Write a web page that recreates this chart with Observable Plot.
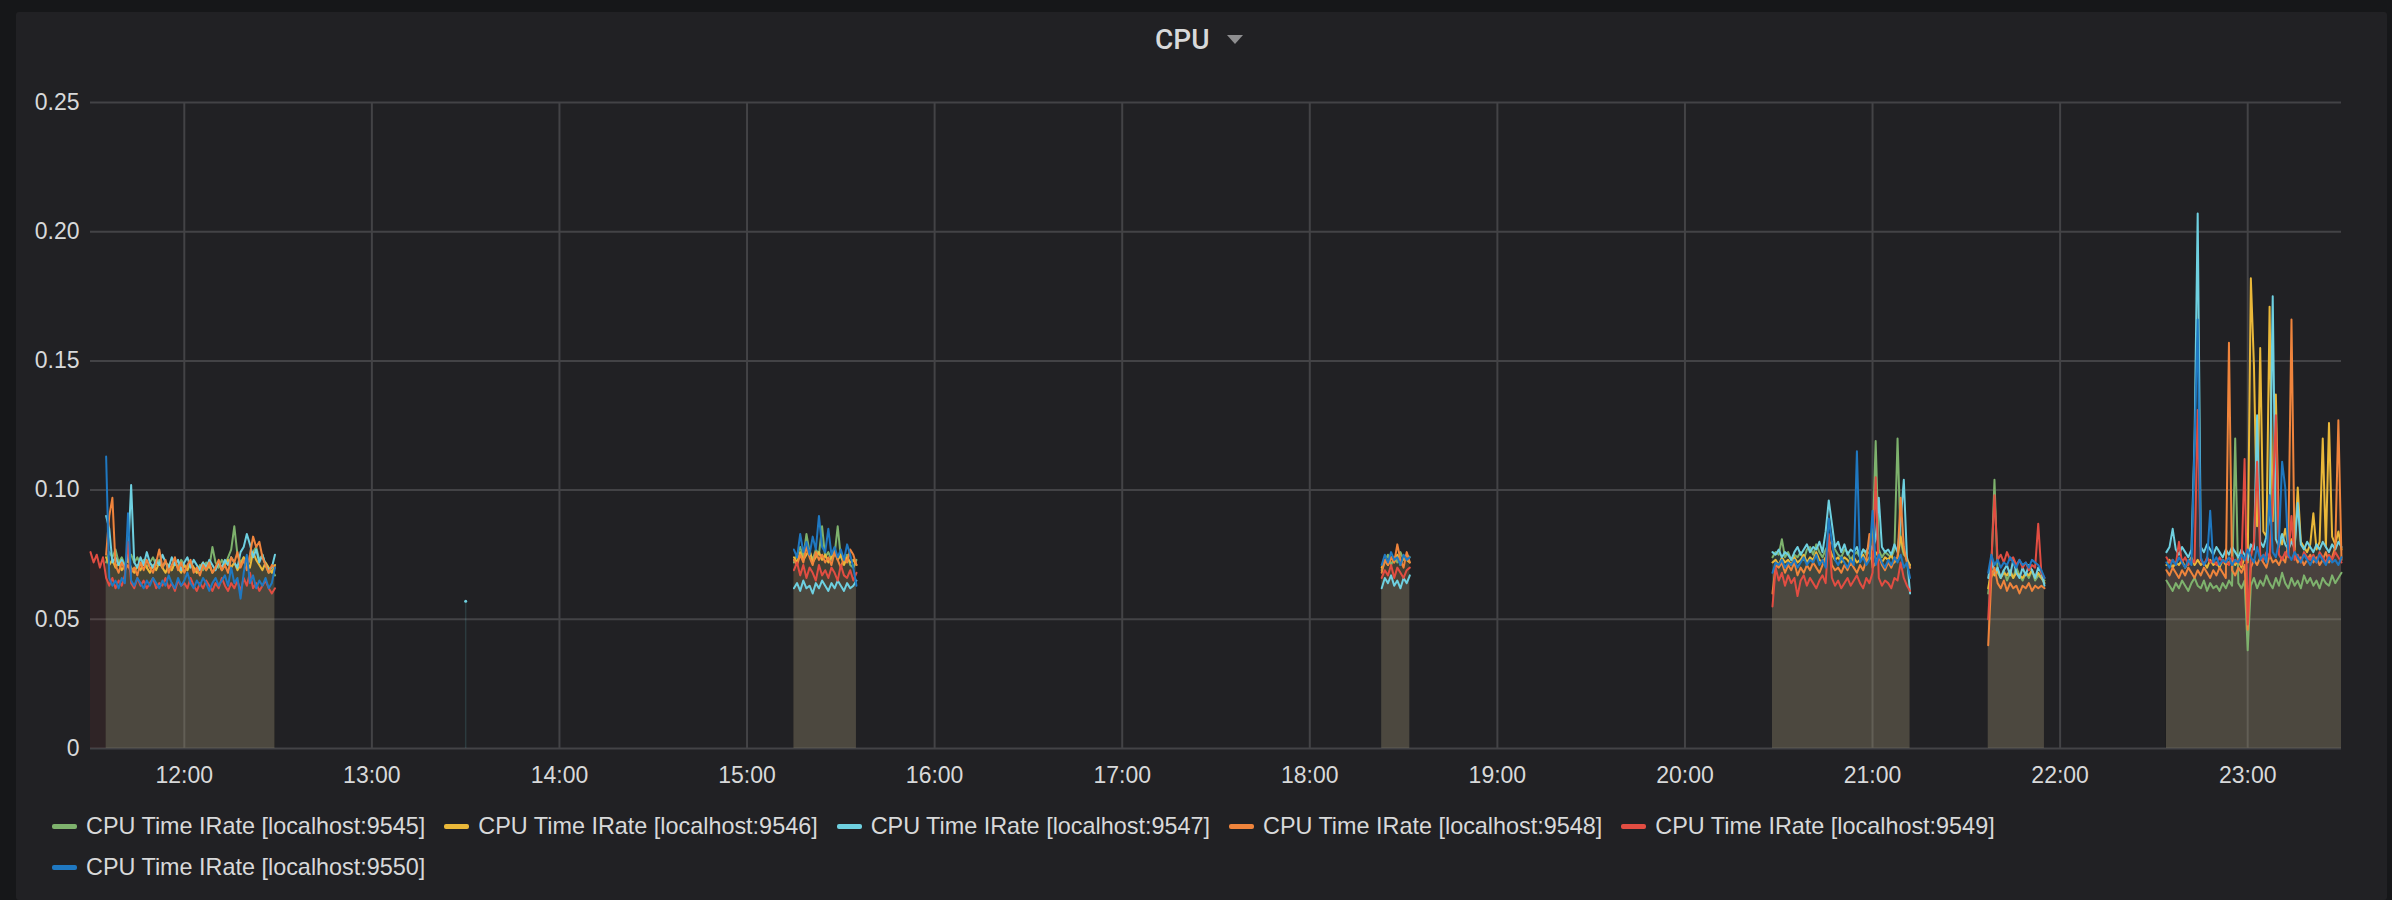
<!DOCTYPE html>
<html>
<head>
<meta charset="utf-8">
<script src="https://cdn.jsdelivr.net/npm/d3@7"></script>
<script src="https://cdn.jsdelivr.net/npm/@observablehq/plot@0.6"></script>
<style>
html, body { margin: 0; padding: 0; background: #161719; width: 2392px; height: 900px; overflow: hidden; }
#panel { position: absolute; left: 16px; top: 12px; width: 2371px; height: 888px; background: #212124; border-radius: 3px; }
#title { position: absolute; left: 1155px; top: 26px; height: 28px; line-height: 28px; font-family: Roboto, "Liberation Sans", sans-serif; font-weight: 500; font-size: 28px; color: #d8d9da; white-space: nowrap; }
#caret { position: absolute; left: 1227px; top: 35px; width: 0; height: 0; border-left: 8px solid transparent; border-right: 8px solid transparent; border-top: 9px solid #8e8e90; }
#chart { position: absolute; left: 0; top: 60px; }
#legend { position: absolute; left: 52px; top: 811px; width: 2290px; display: flex; flex-wrap: wrap; row-gap: 11px; }
.item { display: flex; align-items: center; height: 30px; margin-right: 19px; }
.sw { width: 25px; height: 5px; border-radius: 2px; margin-right: 9px; }
.lbl { font-family: "Liberation Sans", Arial, sans-serif; font-size: 23.4px; line-height: 30px; color: #d8d9da; white-space: nowrap; }
</style>
</head>
<body>
<div id="panel"></div>
<div id="title">CPU</div>
<div id="caret"></div>
<div id="chart"></div>
<div id="legend"></div>
<script>
// ---- data -------------------------------------------------------------
const seriesNames = [
  "CPU Time IRate [localhost:9545]",
  "CPU Time IRate [localhost:9546]",
  "CPU Time IRate [localhost:9547]",
  "CPU Time IRate [localhost:9548]",
  "CPU Time IRate [localhost:9549]",
  "CPU Time IRate [localhost:9550]"
];
const seriesColors = ["#7EB26D", "#EAB839", "#6ED0E0", "#EF843C", "#E24D42", "#1F78C1"];

// start time of each run of samples (one sample per minute)
const segStarts = ["11:30", "15:15", "18:23", "20:28", "21:37", "22:34"];
const hourLabels = ["12:00","13:00","14:00","15:00","16:00","17:00","18:00","19:00","20:00","21:00","22:00","23:00"];
const yTicks = [0, 0.05, 0.10, 0.15, 0.20, 0.25];
const domainStart = "11:30", domainEnd = "23:30";

// lone sample of localhost:9547
const isolatedTimes = ["13:30"];
const isolatedValues = [0.057];

const v9545 = [
  [null,null,null,null,null,0.072,0.076,0.074,0.077,0.072,
   0.074,0.071,0.073,0.075,0.072,0.074,0.071,0.073,0.070,0.072,
   0.074,0.071,0.073,0.070,0.072,0.071,0.069,0.072,0.070,0.073,
   0.071,0.069,0.072,0.070,0.068,0.071,0.069,0.072,0.070,0.078,
   0.072,0.070,0.073,0.071,0.074,0.077,0.086,0.075,0.072,0.074,
   0.071,0.073,0.076,0.078,0.073,0.075,0.071,0.068,0.069,0.067],
  [0.072,0.075,0.078,0.074,0.083,0.076,0.073,0.077,0.075,0.086,0.074,0.076,0.073,0.075,0.086,0.074,0.072,0.075,0.071,0.070,0.073],
  [0.069,0.072,0.075,0.071,0.074,0.072,0.076,0.073,0.075,0.074],
  [0.074,0.076,0.075,0.081,0.074,0.076,0.073,0.075,0.074,0.076,
   0.073,0.077,0.078,0.075,0.079,0.076,0.074,0.077,0.079,0.080,
   0.077,0.075,0.074,0.077,0.076,0.073,0.075,0.076,0.074,0.077,
   0.075,0.076,0.078,0.119,0.077,0.074,0.076,0.075,0.074,0.077,
   0.120,0.080,0.075,0.074,0.070],
  [0.060,0.070,0.104,0.068,0.066,0.069,0.065,0.068,0.066,0.070,0.067,0.065,0.068,0.066,0.069,0.065,0.067,0.066,0.065],
  [0.065,0.063,0.061,0.064,0.062,0.065,0.063,0.061,0.064,0.066,
   0.063,0.062,0.065,0.061,0.064,0.062,0.063,0.061,0.064,0.062,
   0.065,0.063,0.120,0.064,0.062,0.065,0.038,0.063,0.066,0.062,
   0.065,0.063,0.067,0.064,0.062,0.066,0.063,0.068,0.064,0.062,
   0.066,0.063,0.065,0.062,0.067,0.064,0.066,0.063,0.065,0.062,
   0.066,0.064,0.063,0.067,0.064,0.066,0.068]
];
const v9546 = [
  [null,null,null,null,null,0.074,0.071,0.073,0.070,0.072,
   0.069,0.071,0.073,0.070,0.068,0.071,0.069,0.072,0.070,0.068,
   0.071,0.069,0.072,0.070,0.068,0.071,0.069,0.072,0.070,0.068,
   0.071,0.069,0.072,0.070,0.068,0.070,0.072,0.069,0.071,0.068,
   0.070,0.072,0.069,0.071,0.073,0.070,0.072,0.069,0.071,0.074,
   0.072,0.070,0.076,0.073,0.071,0.069,0.072,0.070,0.068,0.071],
  [0.074,0.072,0.076,0.073,0.075,0.077,0.072,0.074,0.076,0.073,0.075,0.072,0.074,0.077,0.073,0.075,0.071,0.074,0.072,0.073,0.071],
  [0.070,0.073,0.071,0.074,0.072,0.075,0.071,0.074,0.073,0.072],
  [0.072,0.073,0.071,0.074,0.072,0.073,0.071,0.074,0.072,0.073,
   0.075,0.072,0.074,0.073,0.076,0.073,0.072,0.074,0.078,0.075,
   0.073,0.074,0.072,0.074,0.073,0.071,0.074,0.072,0.073,0.075,
   0.072,0.074,0.073,0.076,0.074,0.072,0.074,0.073,0.075,0.072,
   0.074,0.082,0.076,0.073,0.071],
  [0.062,0.069,0.067,0.069,0.066,0.068,0.067,0.069,0.066,0.068,0.067,0.066,0.068,0.067,0.069,0.066,0.068,0.066,0.064],
  [0.071,0.073,0.070,0.072,0.071,0.073,0.070,0.072,0.074,0.071,
   0.073,0.071,0.072,0.070,0.073,0.071,0.072,0.070,0.073,0.071,
   0.072,0.074,0.071,0.073,0.070,0.074,0.072,0.182,0.148,0.086,
   0.155,0.084,0.082,0.171,0.088,0.137,0.083,0.079,0.085,0.078,
   0.081,0.077,0.101,0.080,0.078,0.076,0.079,0.091,0.077,0.080,
   0.120,0.078,0.126,0.082,0.079,0.084,0.077]
];
const v9547 = [
  [null,null,null,null,null,0.090,0.085,0.072,0.074,0.071,
   0.073,0.070,0.075,0.102,0.072,0.070,0.074,0.071,0.076,0.072,
   0.070,0.073,0.071,0.075,0.072,0.070,0.074,0.071,0.073,0.069,
   0.072,0.074,0.070,0.073,0.071,0.069,0.072,0.070,0.073,0.071,
   0.069,0.072,0.070,0.073,0.071,0.074,0.072,0.070,0.076,0.078,
   0.083,0.079,0.074,0.077,0.072,0.075,0.071,0.069,0.070,0.075],
  [0.062,0.064,0.061,0.065,0.062,0.063,0.060,0.064,0.062,0.065,0.063,0.061,0.064,0.062,0.065,0.063,0.061,0.064,0.062,0.063,0.065],
  [0.062,0.066,0.064,0.067,0.063,0.065,0.062,0.066,0.064,0.067],
  [0.076,0.075,0.077,0.074,0.076,0.075,0.073,0.076,0.078,0.075,
   0.077,0.079,0.076,0.078,0.077,0.080,0.076,0.084,0.096,0.087,
   0.078,0.080,0.076,0.079,0.075,0.077,0.076,0.078,0.074,0.077,
   0.076,0.079,0.077,0.081,0.097,0.078,0.076,0.077,0.075,0.079,
   0.076,0.088,0.104,0.074,0.060],
  [0.066,0.073,0.068,0.070,0.066,0.069,0.071,0.067,0.073,0.068,0.066,0.070,0.067,0.071,0.069,0.066,0.070,0.068,0.063],
  [0.076,0.078,0.085,0.077,0.075,0.078,0.076,0.074,0.077,0.120,
   0.207,0.078,0.076,0.079,0.077,0.075,0.078,0.076,0.074,0.077,
   0.075,0.078,0.076,0.074,0.077,0.075,0.073,0.079,0.077,0.129,
   0.080,0.078,0.082,0.090,0.175,0.081,0.078,0.083,0.079,0.077,
   0.080,0.078,0.095,0.079,0.077,0.080,0.078,0.076,0.079,0.077,
   0.080,0.078,0.076,0.079,0.077,0.080,0.078]
];
const v9548 = [
  [null,null,null,null,null,0.075,0.090,0.097,0.071,0.068,
   0.072,0.069,0.071,0.068,0.070,0.067,0.072,0.069,0.073,0.070,
   0.068,0.072,0.077,0.070,0.073,0.068,0.071,0.074,0.069,0.072,
   0.068,0.071,0.073,0.068,0.070,0.067,0.071,0.069,0.072,0.068,
   0.070,0.073,0.069,0.071,0.068,0.074,0.072,0.076,0.070,0.073,
   0.069,0.075,0.082,0.078,0.080,0.074,0.071,0.068,0.071,0.070],
  [0.073,0.071,0.075,0.072,0.078,0.074,0.071,0.076,0.073,0.075,0.072,0.074,0.071,0.076,0.073,0.070,0.074,0.072,0.077,0.075,0.071],
  [0.068,0.073,0.071,0.074,0.072,0.079,0.073,0.070,0.076,0.072],
  [0.060,0.071,0.070,0.072,0.068,0.071,0.069,0.072,0.067,0.070,
   0.068,0.071,0.069,0.072,0.070,0.068,0.071,0.073,0.082,0.071,
   0.069,0.070,0.068,0.071,0.069,0.072,0.070,0.068,0.071,0.069,
   0.073,0.083,0.070,0.072,0.075,0.071,0.069,0.072,0.070,0.073,
   0.074,0.097,0.078,0.072,0.070],
  [0.040,0.066,0.070,0.064,0.062,0.065,0.061,0.064,0.062,0.063,0.060,0.063,0.062,0.064,0.061,0.063,0.062,0.063,0.062],
  [0.069,0.067,0.070,0.068,0.066,0.069,0.067,0.070,0.068,0.066,
   0.069,0.067,0.070,0.068,0.066,0.069,0.067,0.070,0.068,0.066,
   0.157,0.069,0.067,0.070,0.068,0.071,0.046,0.070,0.073,0.071,
   0.074,0.072,0.070,0.075,0.072,0.073,0.071,0.074,0.072,0.080,
   0.166,0.075,0.072,0.074,0.071,0.073,0.075,0.072,0.074,0.071,
   0.073,0.076,0.072,0.074,0.078,0.127,0.073]
];
const v9549 = [
  [0.076,0.072,0.075,0.070,0.074,0.066,0.063,0.066,0.062,0.065,
   0.063,0.067,0.080,0.064,0.062,0.066,0.063,0.065,0.062,0.064,
   0.066,0.062,0.064,0.063,0.066,0.062,0.064,0.061,0.065,0.063,
   0.064,0.062,0.066,0.063,0.061,0.064,0.062,0.065,0.063,0.061,
   0.064,0.062,0.066,0.063,0.061,0.064,0.062,0.065,0.061,0.066,
   0.063,0.068,0.062,0.064,0.061,0.063,0.065,0.062,0.060,0.062],
  [0.069,0.072,0.067,0.071,0.066,0.070,0.068,0.065,0.071,0.067,0.069,0.066,0.070,0.068,0.065,0.071,0.067,0.066,0.069,0.065,0.068],
  [0.066,0.069,0.067,0.071,0.066,0.070,0.068,0.066,0.069,0.070],
  [0.055,0.070,0.065,0.068,0.063,0.067,0.064,0.066,0.059,0.065,
   0.067,0.063,0.066,0.064,0.062,0.065,0.067,0.064,0.083,0.066,
   0.063,0.065,0.062,0.064,0.066,0.063,0.065,0.067,0.064,0.062,
   0.066,0.064,0.068,0.105,0.066,0.063,0.065,0.064,0.062,0.066,
   0.065,0.072,0.066,0.063,0.061],
  [0.050,0.072,0.098,0.073,0.075,0.072,0.076,0.073,0.074,0.071,0.073,0.070,0.072,0.069,0.071,0.070,0.087,0.068,0.066],
  [0.074,0.072,0.073,0.071,0.080,0.072,0.074,0.071,0.073,0.072,
   0.131,0.073,0.071,0.074,0.072,0.073,0.071,0.074,0.072,0.073,
   0.071,0.074,0.072,0.073,0.071,0.112,0.048,0.074,0.080,0.111,
   0.075,0.073,0.076,0.074,0.096,0.129,0.075,0.073,0.076,0.074,
   0.090,0.073,0.075,0.072,0.076,0.074,0.073,0.075,0.072,0.076,
   0.074,0.072,0.075,0.073,0.076,0.074,0.072]
];
const v9550 = [
  [null,null,null,null,null,0.113,0.066,0.063,0.065,0.062,
   0.066,0.064,0.091,0.065,0.063,0.066,0.064,0.062,0.065,0.063,
   0.066,0.064,0.062,0.065,0.063,0.067,0.064,0.062,0.066,0.063,
   0.065,0.068,0.064,0.062,0.065,0.063,0.066,0.064,0.061,0.064,
   0.066,0.063,0.065,0.067,0.063,0.070,0.064,0.066,0.058,0.068,
   0.075,0.064,0.067,0.062,0.065,0.063,0.066,0.062,0.064,0.070],
  [0.077,0.074,0.083,0.076,0.080,0.075,0.082,0.077,0.090,0.078,0.076,0.085,0.075,0.078,0.074,0.077,0.073,0.079,0.075,0.070,0.063],
  [0.071,0.075,0.072,0.076,0.073,0.074,0.071,0.075,0.073,0.074],
  [0.068,0.072,0.071,0.073,0.070,0.072,0.071,0.073,0.070,0.072,
   0.074,0.071,0.073,0.072,0.075,0.071,0.073,0.070,0.089,0.080,
   0.073,0.071,0.074,0.072,0.070,0.073,0.071,0.115,0.072,0.074,
   0.071,0.073,0.092,0.071,0.075,0.072,0.070,0.073,0.071,0.074,
   0.072,0.075,0.070,0.072,0.066],
  [0.068,0.075,0.071,0.073,0.070,0.072,0.071,0.074,0.072,0.070,0.073,0.071,0.072,0.070,0.073,0.072,0.071,0.069,0.066],
  [0.072,0.070,0.073,0.071,0.074,0.072,0.070,0.073,0.071,0.118,
   0.166,0.074,0.071,0.073,0.092,0.072,0.074,0.071,0.073,0.072,
   0.074,0.071,0.073,0.072,0.075,0.073,0.077,0.074,0.072,0.078,
   0.073,0.075,0.072,0.098,0.076,0.074,0.080,0.111,0.101,0.075,
   0.073,0.076,0.074,0.072,0.075,0.073,0.071,0.074,0.072,0.075,
   0.073,0.071,0.074,0.072,0.073,0.071,0.074]
];
const seriesValues = [v9545, v9546, v9547, v9548, v9549, v9550];

// ---- build table ------------------------------------------------------
const toDate = hm => new Date("2018-05-01T" + hm + ":00Z");
const rows = [];
seriesValues.forEach((segs, si) => {
  segs.forEach((vals, gi) => {
    const t0 = +toDate(segStarts[gi]);
    vals.forEach((v, i) => {
      if (v == null) return;
      rows.push({ time: new Date(t0 + i * 60000), value: v, series: seriesNames[si], key: si + "-" + gi });
    });
  });
});
const isolated = isolatedTimes.map((t, i) => ({ time: toDate(t), value: isolatedValues[i], series: seriesNames[2] }));
const xTickDates = hourLabels.map(toDate);

const grid = "#434346";
const chart = Plot.plot({
  width: 2392,
  height: 740,
  marginLeft: 90,
  marginRight: 51,
  marginTop: 42,
  marginBottom: 52,
  style: { background: "transparent", color: "#d8d9da", fontFamily: "'Liberation Sans', Arial, sans-serif", fontSize: "23px", overflow: "visible" },
  x: { type: "utc", domain: [toDate(domainStart), toDate(domainEnd)], ticks: xTickDates, tickFormat: d3.utcFormat("%H:%M"), tickSize: 0, tickPadding: 18, label: null },
  y: { domain: [0, 0.25], ticks: yTicks, tickFormat: d => d === 0 ? "0" : d.toFixed(2), tickSize: 0, tickPadding: 11, label: null },
  color: { domain: seriesNames, range: seriesColors },
  marks: [
    Plot.ruleX(xTickDates, { stroke: grid, strokeWidth: 2 }),
    Plot.ruleY(yTicks, { stroke: grid, strokeWidth: 2 }),
    Plot.areaY(rows, { x: "time", y1: 0, y2: "value", z: "key", fill: "series", fillOpacity: 0.075 }),
    Plot.ruleX(isolated, { x: "time", y1: 0, y2: "value", stroke: "series", strokeOpacity: 0.15, strokeWidth: 1.5 }),
    Plot.line(rows, { x: "time", y: "value", z: "key", stroke: "series", strokeWidth: 2, strokeLinejoin: "round" }),
    Plot.dot(isolated, { x: "time", y: "value", fill: "series", r: 1.5 })
  ]
});
document.getElementById("chart").appendChild(chart);

// ---- legend -----------------------------------------------------------
const legend = document.getElementById("legend");
seriesNames.forEach((name, i) => {
  const item = document.createElement("div");
  item.className = "item";
  const sw = document.createElement("div");
  sw.className = "sw";
  sw.style.background = seriesColors[i];
  const lbl = document.createElement("span");
  lbl.className = "lbl";
  lbl.textContent = name;
  item.appendChild(sw);
  item.appendChild(lbl);
  legend.appendChild(item);
});
</script>
</body>
</html>
